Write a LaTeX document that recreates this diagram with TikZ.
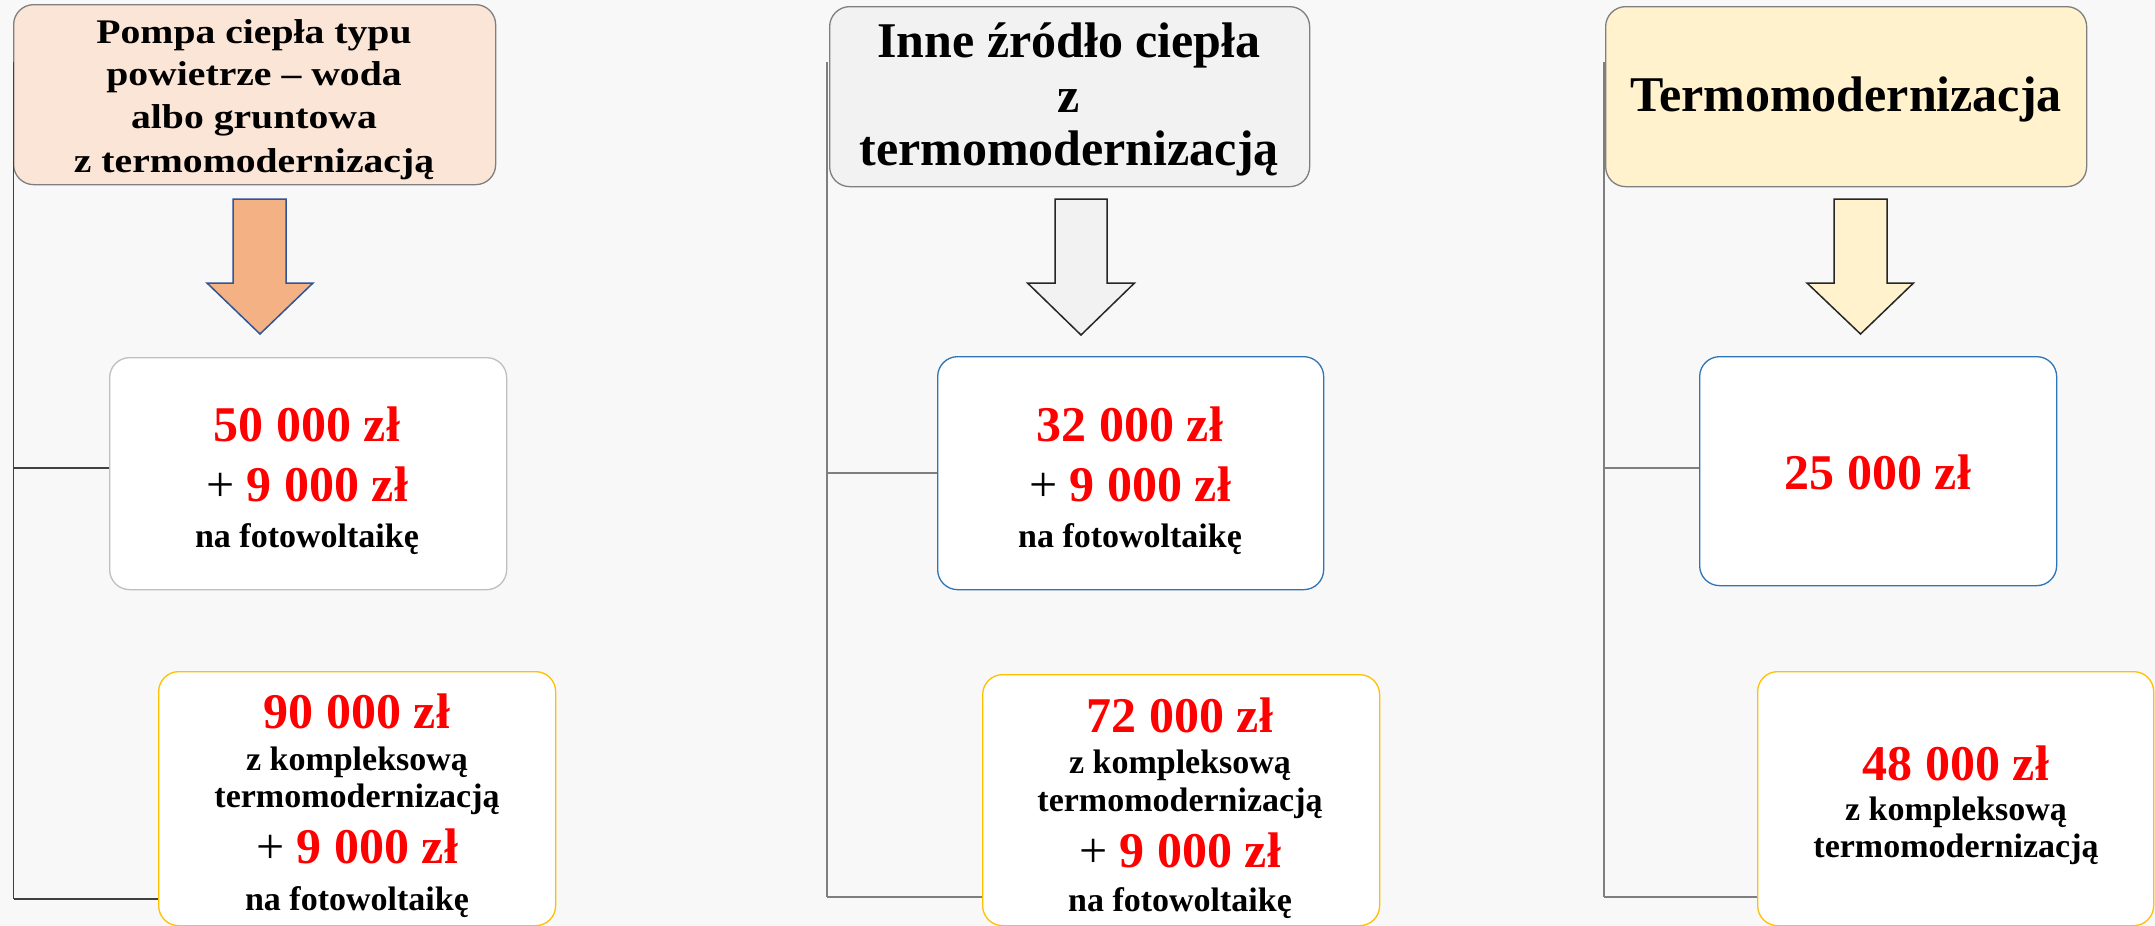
\documentclass[tikz,border=0pt]{standalone}
\usepackage{fontspec}
\setmainfont{Liberation Serif}
\newfontfamily\titleA[FakeStretch=1.15]{Liberation Serif}
\definecolor{bg}{HTML}{F8F8F8}
\definecolor{peach}{HTML}{FBE5D6}
\definecolor{paleg}{HTML}{F2F2F2}
\definecolor{cream}{HTML}{FFF2CC}
\definecolor{orangeA}{HTML}{F4B183}
\definecolor{blueA}{HTML}{2F5597}
\definecolor{blueB}{HTML}{2E75B6}
\definecolor{yellowB}{HTML}{FFC000}
\definecolor{grayB}{HTML}{BFBFBF}
\definecolor{titleB}{HTML}{7F7F7F}
\definecolor{lineA}{HTML}{404040}
\definecolor{lineB}{HTML}{7F7F7F}
\definecolor{darkA}{HTML}{262626}
\definecolor{redT}{HTML}{FF0000}
\begin{document}
\begin{tikzpicture}[x=1pt,y=-1pt,
  boxbase/.style={rounded corners=20pt, line width=1.3pt, anchor=north west, inner sep=0pt},
  titlebox/.style={boxbase, draw=titleB},
  midgray/.style={boxbase, draw=grayB, fill=white},
  midblue/.style={boxbase, draw=blueB, fill=white},
  lowbox/.style={boxbase, draw=yellowB, fill=white},
  txt/.style={anchor=base, inner sep=0pt, font=\bfseries},
  money/.style={txt, text=redT, font=\bfseries\fontsize{50}{54}\selectfont},
  small/.style={txt, font=\bfseries\fontsize{34}{38}\selectfont},
  bracketA/.style={draw=lineA, line width=1.5pt},
  bracketB/.style={draw=lineB, line width=1.5pt},
  blockarrow/.style={line width=1.5pt, line join=miter}
]
\clip (0,0) rectangle (2155,926);
\fill[bg] (0,0) rectangle (2155,926);

% ---------- bracket corner points ----------
\coordinate (v1t) at (13.5,62);  \coordinate (v1m) at (13.5,468); \coordinate (v1b) at (13.5,899);
\coordinate (v2t) at (827,62);   \coordinate (v2m) at (827,473);  \coordinate (v2b) at (827,897);
\coordinate (v3t) at (1604,62);  \coordinate (v3m) at (1604,468); \coordinate (v3b) at (1604,897);

% ---------- title boxes ----------
\node[titlebox, fill=peach, minimum width=482pt, minimum height=180pt] (t1) at (13,4) {};
\node[titlebox, fill=paleg, minimum width=480pt, minimum height=180pt] (t2) at (829,6) {};
\node[titlebox, fill=cream, minimum width=481pt, minimum height=180pt] (t3) at (1605,6) {};

\draw[bracketA] (v1t) -- (v1b);
\draw[bracketB] (v2t) -- (v2b);
\draw[bracketB] (v3t) -- (v3b);

% ---------- amount boxes ----------
\node[midgray, minimum width=397pt, minimum height=232pt] (m1) at (109,357) {};
\node[midblue, minimum width=386pt, minimum height=233pt] (m2) at (937,356) {};
\node[midblue, minimum width=357pt, minimum height=229pt] (m3) at (1699,356) {};

\node[lowbox, minimum width=397pt, minimum height=254pt] (l1) at (158,671) {};
\node[lowbox, minimum width=397pt, minimum height=251pt] (l2) at (982,674) {};
\node[lowbox, minimum width=396pt, minimum height=254pt] (l3) at (1757,671) {};

\draw[bracketA] (v1m) -- (m1.west |- v1m);
\draw[bracketA] (v1b) -- (l1.west |- v1b);
\draw[bracketB] (v2m) -- (m2.west |- v2m);
\draw[bracketB] (v2b) -- (l2.west |- v2b);
\draw[bracketB] (v3m) -- (m3.west |- v3m);
\draw[bracketB] (v3b) -- (l3.west |- v3b);

% ---------- block arrows ----------
\draw[blockarrow, draw=blueA, fill=orangeA]
  (233,199) -- (286,199) -- (286,283) -- (313,283) -- (260,334) -- (207,283) -- (233,283) -- cycle;
\draw[blockarrow, draw=darkA, fill=paleg]
  (1055,199) -- (1107,199) -- (1107,283) -- (1134.5,283) -- (1081,335) -- (1027.5,283) -- (1055,283) -- cycle;
\draw[blockarrow, draw=darkA, fill=cream]
  (1834,199) -- (1887,199) -- (1887,283) -- (1913.5,283) -- (1860.5,334) -- (1807,283) -- (1834,283) -- cycle;

% ---------- title texts ----------
\begin{scope}[every node/.style={txt, font=\titleA\bfseries\fontsize{34.5}{40}\selectfont}]
\node (t1a) at (254,43)  {Pompa ciepła typu};
\node (t1b) at (254,85)  {powietrze – woda};
\node (t1c) at (254,128) {albo gruntowa};
\node (t1d) at (254,172) {z termomodernizacją};
\end{scope}
\begin{scope}[every node/.style={txt, font=\bfseries\fontsize{50}{54}\selectfont}]
\node (t2a) at (1069,57)  {Inne źródło ciepła};
\node (t2b) at (1069,112) {z};
\node (t2c) at (1069,165) {termomodernizacją};
\node (t3a) at (1846,111) {Termomodernizacja};
\end{scope}

% ---------- middle box texts ----------
\node[money] (m1a) at (307,441) {50 000 zł};
\node[money] (m1b) at (307,501) {{\mdseries\color{black}+} 9 000 zł};
\node[small] (m1c) at (307,547) {na fotowoltaikę};

\node[money] (m2a) at (1130,441) {32 000 zł};
\node[money] (m2b) at (1130,501) {{\mdseries\color{black}+} 9 000 zł};
\node[small] (m2c) at (1130,547) {na fotowoltaikę};

\node[money] (m3a) at (1878,489.5) {25 000 zł};

% ---------- lower box texts ----------
\node[money] (l1a) at (357,728.5) {90 000 zł};
\node[small] (l1b) at (357,770) {z kompleksową};
\node[small] (l1c) at (357,807) {termomodernizacją};
\node[money] (l1d) at (357,863) {{\mdseries\color{black}+} 9 000 zł};
\node[small] (l1e) at (357,910) {na fotowoltaikę};

\node[money] (l2a) at (1180,732.5) {72 000 zł};
\node[small] (l2b) at (1180,773.5) {z kompleksową};
\node[small] (l2c) at (1180,811) {termomodernizacją};
\node[money] (l2d) at (1180,867) {{\mdseries\color{black}+} 9 000 zł};
\node[small] (l2e) at (1180,911.5) {na fotowoltaikę};

\node[money] (l3a) at (1956,780) {48 000 zł};
\node[small] (l3b) at (1956,820) {z kompleksową};
\node[small] (l3c) at (1956,857.5) {termomodernizacją};
\end{tikzpicture}
\end{document}
